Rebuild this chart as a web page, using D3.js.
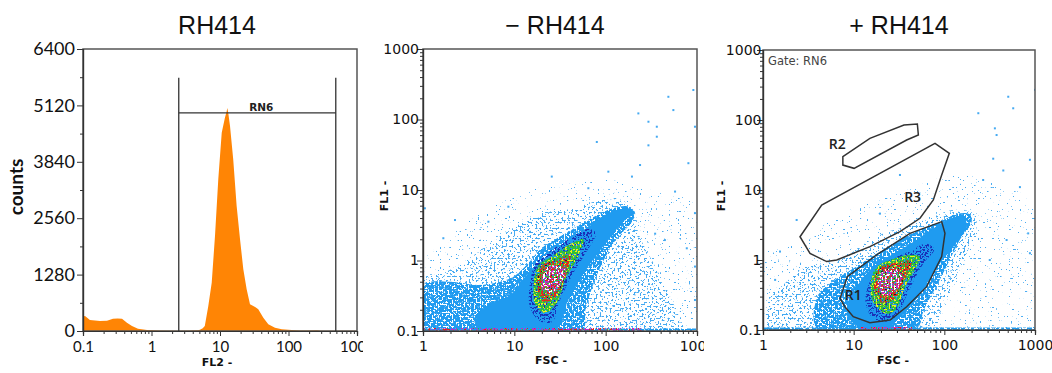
<!DOCTYPE html>
<html>
<head>
<meta charset="utf-8">
<script src="https://cdn.jsdelivr.net/npm/d3@7/dist/d3.min.js"></script>
<style>
  body { margin: 0; background: #fff; }
  svg { display: block; }
</style>
</head>
<body>
<svg id="chart" width="1052" height="373"></svg>
<script>
// ---------- values ----------

// left panel: FL2 histogram (channel value, counts)
var fl2Channels = [0.1, 0.107, 0.126, 0.177, 0.224, 0.274, 0.32, 0.371, 0.438, 0.519,
    0.635, 0.86, 1.33, 2.5, 3.65, 4.78, 5.1, 5.6, 6.0, 6.75,
    7.57, 8.45, 9.44, 10.6, 11.8, 12.5, 12.8, 13.2, 14.0, 15.6,
    17.5, 19.6, 21.9, 24.5, 27.4, 30.6, 33, 36.2, 42.9, 50.7,
    63.5, 79.6, 111, 150, 200, 260, 300, 500, 1000];
var fl2Counts = [330, 340, 250, 225, 230, 280, 285, 280, 190, 113,
    53, 23, 10, 8, 10, 18, 30, 60, 113, 567,
    1097, 2156, 3443, 4501, 4842, 4980, 5060, 4950, 4653, 3895,
    2837, 2080, 1400, 945, 605, 567, 540, 492, 303, 151,
    76, 38, 20, 12, 10, 15, 8, 5, 3];
var countTicks = [0, 1280, 2560, 3840, 5120, 6400];
var rn6Bounds = [2.5, 490];
var rn6Level = 4950;
var rn6Top = 5750;
var rn6LabelAt = 40;

// middle panel (- RH414): outlines of density levels, [FSC, FL1]
var minusSparse = [[1, 0.1], [1, 1.1], [1.6, 1.6], [2.2, 2.5], [4, 4.5], [7.9, 7.2], [15, 10], [28, 12],
    [50, 13], [98, 14], [200, 12], [400, 9], [1000, 6], [1000, 0.1]];
var minusMedium = [[1, 0.1], [1, 0.59], [1.6, 0.65], [3.4, 1.13], [6.1, 1.95], [10.2, 3.0], [20, 4.7],
    [42.5, 5.4], [90, 7.2], [150, 7.2], [209, 4.7], [229, 2.4], [348, 0.82], [527, 0.275], [680, 0.1]];
var minusDense = [[1, 0.1], [1, 0.45], [2, 0.5], [4, 0.45], [7, 0.5], [10, 0.6], [14, 0.9], [20, 1.5],
    [40, 2.6], [70, 4], [120, 5.5], [180, 5.8], [210, 4.7], [190, 3.4], [130, 2], [95, 1.0], [75, 0.5],
    [60, 0.2], [55, 0.1]];
var minusSolid = [[4, 0.1], [27.9, 0.1], [39, 0.275], [64.6, 0.82], [107, 1.95], [163, 3.75], [210, 4.7],
    [177, 5.5], [107, 4.7], [64.6, 3.0], [39, 1.95], [20, 1.0], [13.1, 0.59], [9.4, 0.34], [5.5, 0.24], [4, 0.18]];
var minusDark = [[14.5, 0.36], [17.2, 0.93], [23.6, 1.3], [39, 2.0], [64.6, 2.8], [78, 2.45], [60, 1.26],
    [43.5, 0.64], [31, 0.26], [26, 0.135], [19.5, 0.135], [15, 0.21]];
var minusGreen = [[16.2, 0.42], [18.5, 0.86], [25.7, 1.13], [42.5, 1.75], [57, 2.0], [52, 1.26],
    [37, 0.57], [29, 0.25], [21.7, 0.18], [17, 0.235]];
var minusRed = [[17.6, 0.45], [20.2, 0.86], [27.9, 1.0], [41, 1.2], [37, 0.64], [28.5, 0.31], [21.3, 0.25]];
var minusCore = [[19.8, 0.52], [22.6, 0.8], [30.3, 0.84], [36.5, 0.74], [32, 0.46], [25.7, 0.35], [20.6, 0.37]];
var minusOutliers = [[486, 210], [912, 262], [228, 122], [551, 136], [294, 93], [363, 79], [363, 57], [80, 48],
    [294, 43], [238, 22.6], [107, 18.2], [805, 24], [950, 79], [950, 4.7], [773, 1.49], [575, 9.5], [25.7, 15.5],
    [2.24, 3.75], [1.05, 5.5], [8.6, 5.8], [5.2, 3.55], [1.67, 2.07], [950, 0.82], [950, 0.275], [64.6, 10.6],
    [194, 15.5], [445, 1.95], [348, 2.4]];
var minusStripeHot = [1, 250];

// right panel (+ RH414, gated on RN6)
var plusSparse = [[1, 0.1], [1, 1.2], [1.7, 1.5], [2.6, 1.8], [5.9, 4.0], [14, 6.5], [32, 9], [75, 14],
    [176, 16], [400, 12], [1000, 6], [1000, 0.1]];
var plusMedium = [[1.2, 0.1], [1.2, 0.3], [1.7, 0.45], [3.0, 0.8], [7.07, 1.0], [11.7, 1.55], [21.2, 2.4],
    [38.4, 3.0], [75.6, 4.16], [126, 5.2], [209, 4.6], [227, 3.0], [176, 1.24], [126, 0.46], [89.5, 0.173], [75.6, 0.1]];
var plusDense = [[4, 0.1], [4, 0.3], [6, 0.5], [9, 0.7], [14, 1.0], [25, 1.6], [50, 2.6], [90, 3.5], [140, 4.6],
    [190, 4.5], [200, 3.5], [150, 2.0], [110, 0.9], [80, 0.4], [60, 0.2], [48, 0.1]];
var plusSolid = [[8.4, 0.193], [10.8, 0.416], [16.5, 0.8], [32.4, 1.39], [63.8, 2.4], [106, 3.73], [162, 4.16],
    [176, 3.0], [126, 1.55], [89.5, 0.9], [63.8, 0.46], [41.8, 0.215], [29.8, 0.139], [23.1, 0.1], [13.9, 0.1], [9.9, 0.125]];
var plusDark = [[13.5, 0.26], [16.2, 0.59], [23.1, 0.93], [38.4, 1.28], [63.8, 1.7], [77, 1.42], [59, 0.9],
    [46, 0.51], [36, 0.26], [30.5, 0.165], [23.1, 0.132], [16.2, 0.15]];
var plusGreen = [[15.3, 0.35], [17.4, 0.76], [25.2, 1.0], [41.8, 1.18], [54, 1.1], [47, 0.72], [36.5, 0.4],
    [29.5, 0.2], [23.1, 0.17], [17.4, 0.225]];
var plusRed = [[16.8, 0.4], [19.1, 0.76], [27.4, 0.9], [43, 0.95], [36.5, 0.52], [28, 0.28], [20, 0.25]];
var plusCore = [[18.5, 0.45], [21.0, 0.7], [29.8, 0.75], [34.5, 0.58], [29, 0.36], [22.2, 0.305]];
var plusOutliers = [[507, 215], [575, 147], [237, 125], [361, 76], [377, 61], [346, 28], [1000, 270], [879, 27],
    [447, 19], [268, 13.9], [682, 11], [841, 2.4], [879, 1.25], [486, 1.93], [317, 1.0], [2.35, 3.73], [1.14, 5.8],
    [1.54, 1.32], [1.36, 0.52], [32.4, 16.4], [19.5, 4.6]];
var plusStripeHot = [12, 45];

// gates drawn on the right panel
var gateR1 = [[7.07, 0.283], [8.51, 0.578], [17.9, 1.18], [41.8, 2.4], [93.5, 3.53], [101.6, 2.4], [93.5, 1.12],
    [63.8, 0.416], [38.4, 0.215], [25.2, 0.139], [15.1, 0.127], [9.9, 0.155], [8.0, 0.215]];
var gateR2 = [[7.6, 30], [15.1, 54.7], [35.9, 84.8], [50.4, 87.7], [51.7, 61.1], [38.4, 51.8], [10.1, 20.4], [7.6, 22.7]];
var gateR3 = [[2.56, 2.15], [4.44, 6.1], [78.9, 46.4], [113.5, 33.4], [93.5, 16.4], [75.6, 7.2], [53.9, 3.94],
    [32.4, 2.54], [15.1, 1.55], [6.5, 1.0], [5.04, 0.95], [3.3, 1.24]];
var gateNames = ["R1", "R2", "R3"];
var gateLabelAt = [[9.9, 0.316], [6.6, 45], [44.7, 8.0]];

// ---------- drawing ----------

var svg = d3.select("#chart");
var defs = svg.append("defs");
var fmt = d3.format("~g");
var axisFont = "DejaVu Sans";
var titleFont = "Liberation Sans";

function addClip(id, x, y, w, h) {
    defs.append("clipPath").attr("id", id)
        .append("rect").attr("x", x).attr("y", y).attr("width", w).attr("height", h);
}

// speckle texture: keeps the fill only where the noise passes a threshold
function addSpeckle(id, freq, thresh, seed) {
    var f = defs.append("filter").attr("id", id)
        .attr("x", 0).attr("y", 0).attr("width", 1).attr("height", 1)
        .attr("color-interpolation-filters", "sRGB");
    f.append("feTurbulence").attr("type", "fractalNoise").attr("baseFrequency", freq)
        .attr("numOctaves", 1).attr("seed", seed).attr("result", "n");
    f.append("feColorMatrix").attr("in", "n").attr("type", "matrix")
        .attr("values", "0 0 0 0 0  0 0 0 0 0  0 0 0 0 0  1 0 0 0 0").attr("result", "a");
    f.append("feComponentTransfer").attr("in", "a").attr("result", "t")
        .append("feFuncA").attr("type", "linear").attr("slope", 30).attr("intercept", -30 * thresh);
    f.append("feComposite").attr("in", "SourceGraphic").attr("in2", "t").attr("operator", "in");
}

addSpeckle("spkSparse", 0.55, 0.685, 2);
addSpeckle("spkMedium", 0.5, 0.585, 5);
addSpeckle("spkDense", 0.5, 0.46, 7);
addSpeckle("spkGreen", 0.5, 0.44, 23);
addSpeckle("spkHalf", 0.55, 0.52, 11);
addSpeckle("spkRedMix", 0.55, 0.5, 19);
addSpeckle("spkFew", 0.55, 0.58, 13);
addSpeckle("spkRare", 0.55, 0.66, 17);

addClip("pane1", 0, 0, 363, 373);
addClip("pane2", 363, 0, 341, 373);
addClip("pane3", 704, 0, 348, 373);

function minorLog(scale) {
    return scale.ticks().filter(function(v) {
        var l = Math.log10(v);
        return Math.abs(l - Math.round(l)) > 1e-6;
    });
}

function styleAxis(g, font, size) {
    g.selectAll("path.domain").attr("stroke", "#333").attr("stroke-width", 1.2);
    g.selectAll(".tick line").attr("stroke", "#333");
    g.selectAll("text").attr("font-family", font).attr("font-size", size).attr("fill", "#111");
}

function plotBox(g, x0, y0, x1, y1) {
    g.append("rect")
        .attr("x", x0).attr("y", y0)
        .attr("width", x1 - x0).attr("height", y1 - y0)
        .attr("fill", "none").attr("stroke", "#555").attr("stroke-width", 1.5);
}

function title(g, text, x) {
    g.append("text").attr("x", x).attr("y", 34)
        .attr("text-anchor", "middle")
        .attr("font-family", titleFont).attr("font-size", 25).attr("fill", "#111")
        .text(text);
}

function rotatedLabel(g, text, x, y, font, size) {
    g.append("text")
        .attr("transform", "translate(" + x + "," + y + ") rotate(-90)")
        .attr("text-anchor", "middle")
        .attr("font-family", font).attr("font-size", size).attr("font-weight", "bold").attr("fill", "#111")
        .text(text);
}

function bottomLabel(g, text, x, y) {
    g.append("text").attr("x", x).attr("y", y)
        .attr("text-anchor", "middle")
        .attr("font-family", axisFont).attr("font-size", 11).attr("font-weight", "bold").attr("fill", "#111")
        .text(text);
}

// ---- panel 1: histogram ----
var p1 = svg.append("g").attr("clip-path", "url(#pane1)");
var hx = d3.scaleLog().domain([0.1, 1000]).range([83, 357]);
var hy = d3.scaleLinear().domain([0, 6400]).range([331, 49]);
addClip("plot1", 83, 49, 274, 282);

p1.append("path")
    .datum(d3.zip(fl2Channels, fl2Counts))
    .attr("clip-path", "url(#plot1)")
    .attr("fill", "#ff8505")
    .attr("d", d3.area()
        .x(function(d) { return hx(d[0]); })
        .y0(hy(0))
        .y1(function(d) { return hy(d[1]); }));

plotBox(p1, 83, 49, 357, 331);

var rn6 = p1.append("g").attr("stroke", "#333").attr("stroke-width", 1.3);
rn6Bounds.forEach(function(v) {
    rn6.append("line").attr("x1", hx(v)).attr("x2", hx(v)).attr("y1", hy(0)).attr("y2", hy(rn6Top));
});
rn6.append("line")
    .attr("x1", hx(rn6Bounds[0])).attr("x2", hx(rn6Bounds[1]))
    .attr("y1", hy(rn6Level)).attr("y2", hy(rn6Level));
p1.append("text").attr("x", hx(rn6LabelAt)).attr("y", hy(rn6Level) - 2)
    .attr("text-anchor", "middle")
    .attr("font-family", axisFont).attr("font-size", 10.5).attr("font-weight", "bold").attr("fill", "#222")
    .text("RN6");

var ax1 = p1.append("g").attr("transform", "translate(0,331)");
ax1.append("g").call(d3.axisBottom(hx).tickValues(minorLog(hx)).tickSize(3).tickFormat(""))
    .call(styleAxis, "Lato", 15);
ax1.append("g").call(d3.axisBottom(hx).tickValues([0.1, 1, 10, 100, 1000]).tickSize(5).tickPadding(5).tickFormat(fmt))
    .call(styleAxis, "Lato", 15);

var ay1 = p1.append("g").attr("transform", "translate(83,0)");
ay1.append("g").call(d3.axisLeft(hy).tickValues(d3.range(640, 6400, 1280)).tickSize(3).tickFormat(""))
    .call(styleAxis, "Lato", 18);
ay1.append("g").call(d3.axisLeft(hy).tickValues(countTicks).tickSize(6).tickPadding(2).tickFormat(d3.format("d")))
    .call(styleAxis, "Lato", 18);

title(p1, "RH414", 217);
rotatedLabel(p1, "counts", 23, 187, "Lato", 19);
bottomLabel(p1, "FL2 -", 217, 366);

// ---- panels 2 and 3: FSC / FL1 density plots ----
var layerOrder = ["sparse", "medium", "dense", "solid", "dark", "green", "red", "core"];
var layerFills = {
    sparse: [["#4aacf2", "spkSparse"]],
    medium: [["#45aaf2", "spkMedium"]],
    dense: [["#1f9bf0", "spkDense"]],
    solid: [["#1f9bf0", null]],
    dark: [["#1a2fb8", "spkHalf"]],
    green: [["#2fbf3a", "spkGreen"], ["#f2ee22", "spkFew"]],
    red: [["#e3261c", "spkRedMix"], ["#f7d21a", "spkRare"], ["#222", "spkRare"]],
    core: [["#c62ac8", "spkHalf"], ["#ffffff", "spkFew"]]
};

function flowPanel(cfg) {
    var g = svg.append("g").attr("clip-path", "url(#" + cfg.pane + ")");
    var x = d3.scaleLog().domain([1, 1000]).range([cfg.left, cfg.right]);
    var y = d3.scaleLog().domain([0.1, 1000]).range([cfg.bottom, cfg.top]);
    var plotId = cfg.pane + "plot";
    addClip(plotId, cfg.left, cfg.top, cfg.right - cfg.left, cfg.bottom - cfg.top);

    var blob = d3.line()
        .x(function(d) { return x(d[0]); })
        .y(function(d) { return y(d[1]); })
        .curve(d3.curveCatmullRomClosed.alpha(0.5));

    var dens = g.append("g").attr("clip-path", "url(#" + plotId + ")");
    layerOrder.forEach(function(k) {
        layerFills[k].forEach(function(f) {
            var p = dens.append("path").datum(cfg.layers[k]).attr("d", blob).attr("fill", f[0]);
            if (f[1]) p.attr("filter", "url(#" + f[1] + ")");
        });
    });

    dens.selectAll("rect.out")
        .data(cfg.outliers)
        .enter().append("rect")
        .attr("class", "out")
        .attr("x", function(d) { return x(d[0]) - 1; })
        .attr("y", function(d) { return y(d[1]) - 1; })
        .attr("width", 2).attr("height", 2)
        .attr("fill", "#45aaf2");

    // events piled on the lower edge
    var sy = y(0.1) - 2.5;
    dens.append("rect").attr("x", x(1)).attr("y", sy).attr("width", x(1000) - x(1)).attr("height", 2.5)
        .attr("fill", "#1f9bf0").attr("filter", "url(#spkGreen)");
    [["#c62ac8", "spkHalf"], ["#e3261c", "spkFew"], ["#2fbf3a", "spkRare"]].forEach(function(f) {
        dens.append("rect")
            .attr("x", x(cfg.hot[0])).attr("y", sy - 0.5)
            .attr("width", x(cfg.hot[1]) - x(cfg.hot[0])).attr("height", 3)
            .attr("fill", f[0]).attr("filter", "url(#" + f[1] + ")");
    });

    plotBox(g, cfg.left, cfg.top, cfg.right, cfg.bottom);

    var ax = g.append("g").attr("transform", "translate(0," + cfg.bottom + ")");
    ax.append("g").call(d3.axisBottom(x).tickValues(minorLog(x)).tickSize(3).tickFormat(""))
        .call(styleAxis, axisFont, 14);
    ax.append("g").call(d3.axisBottom(x).tickValues([1, 10, 100, 1000]).tickSize(5).tickPadding(5).tickFormat(fmt))
        .call(styleAxis, axisFont, 14);

    var ay = g.append("g").attr("transform", "translate(" + cfg.left + ",0)");
    ay.append("g").call(d3.axisLeft(y).tickValues(minorLog(y)).tickSize(3).tickFormat(""))
        .call(styleAxis, axisFont, 14);
    ay.append("g").call(d3.axisLeft(y).tickValues([0.1, 1, 10, 100, 1000]).tickSize(6).tickPadding(cfg.yPad).tickFormat(fmt))
        .call(styleAxis, axisFont, 14);

    title(g, cfg.title, cfg.titleX);
    rotatedLabel(g, "FL1 -", cfg.fl1X, 196, axisFont, 11);
    bottomLabel(g, "FSC -", cfg.fscX, 364);

    return {g: g, x: x, y: y};
}

flowPanel({
    pane: "pane2", left: 423, right: 697, top: 49, bottom: 331,
    layers: {sparse: minusSparse, medium: minusMedium, dense: minusDense, solid: minusSolid,
        dark: minusDark, green: minusGreen, red: minusRed, core: minusCore},
    outliers: minusOutliers, hot: minusStripeHot,
    yPad: -2, title: "\u2212 RH414", titleX: 555, fl1X: 388, fscX: 551
});

var right = flowPanel({
    pane: "pane3", left: 763, right: 1035, top: 50, bottom: 330,
    layers: {sparse: plusSparse, medium: plusMedium, dense: plusDense, solid: plusSolid,
        dark: plusDark, green: plusGreen, red: plusRed, core: plusCore},
    outliers: plusOutliers, hot: plusStripeHot,
    yPad: -4.5, title: "+ RH414", titleX: 899, fl1X: 725, fscX: 893
});

right.g.append("text").attr("x", 768).attr("y", 65)
    .attr("font-family", axisFont).attr("font-size", 11.5).attr("fill", "#444")
    .text("Gate: RN6");

var gateLine = d3.line()
    .x(function(d) { return right.x(d[0]); })
    .y(function(d) { return right.y(d[1]); })
    .curve(d3.curveLinearClosed);

right.g.selectAll("path.gate")
    .data([gateR1, gateR2, gateR3])
    .enter().append("path")
    .attr("class", "gate")
    .attr("d", gateLine)
    .attr("fill", "none").attr("stroke", "#333").attr("stroke-width", 1.5);

right.g.selectAll("text.gate")
    .data(gateNames)
    .enter().append("text")
    .attr("class", "gate")
    .attr("x", function(d, i) { return right.x(gateLabelAt[i][0]); })
    .attr("y", function(d, i) { return right.y(gateLabelAt[i][1]); })
    .attr("dy", "0.35em")
    .attr("text-anchor", "middle")
    .attr("font-family", "Open Sans").attr("font-size", 14).attr("font-weight", 600).attr("fill", "#222")
    .text(function(d) { return d; });
</script>
</body>
</html>
